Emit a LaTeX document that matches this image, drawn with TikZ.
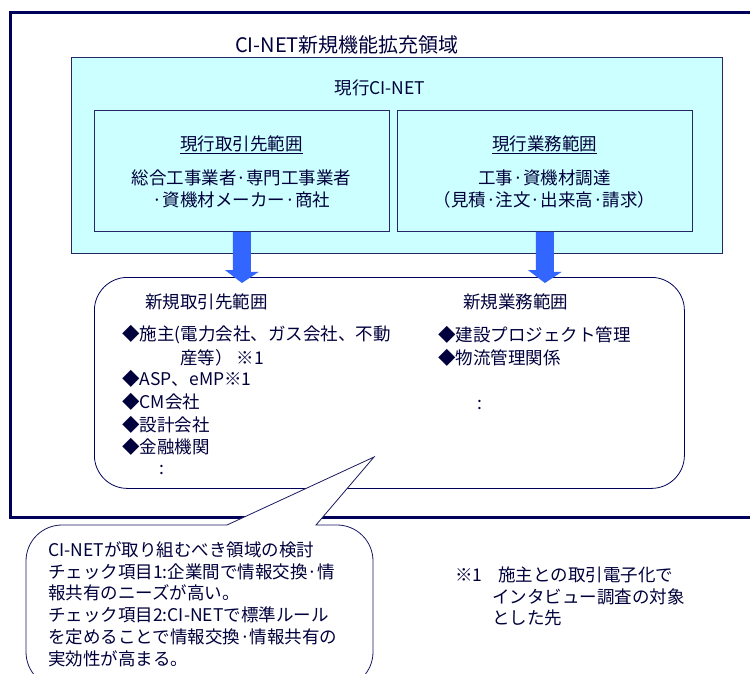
\documentclass[tikz,border=0pt]{standalone}
\usepackage{fontspec}
\setmainfont{Noto Sans CJK JP}
\definecolor{navy}{RGB}{0,0,90}
\definecolor{txt}{RGB}{0,0,60}
\definecolor{lcyan}{RGB}{204,255,255}
\definecolor{ablue}{RGB}{51,102,255}
\tikzset{
  tx/.style={text=txt, font=\fontsize{17.5}{22}\selectfont, inner sep=0pt},
  boxline/.style={draw=navy!70!gray, line width=0.8pt},
  barrow/.style={fill=ablue},
}
\begin{document}
\begin{tikzpicture}[x=1pt,y=-1pt]
\useasboundingbox (0,0) rectangle (750,673);
\fill[white] (0,0) rectangle (750,673);
% outer frame
\draw[navy, line width=3pt] (10,12) rectangle (775,517);
\node[tx, font=\fontsize{20}{24}\selectfont] (title) at (347,45) {CI-NET新規機能拡充領域};
% cyan box
\node[boxline, fill=lcyan, minimum width=651pt, minimum height=196pt, anchor=north west, inner sep=0pt] (cinet) at (71,57) {};
\node[tx] (cinetlab) at (380,88) {現行CI-NET};
% inner boxes
\node[boxline, fill=lcyan, minimum width=295pt, minimum height=121pt, anchor=north west, inner sep=0pt] (lbox) at (94,110) {};
\node[boxline, fill=lcyan, minimum width=295pt, minimum height=121pt, anchor=north west, inner sep=0pt] (rbox) at (397,110) {};
\node[tx] (lhead) at (241.5,145) {\underline{現行取引先範囲}};
\node[tx, align=center] (ltext) at (241.5,189) {総合工事業者·専門工事業者\\·資機材メーカー·商社};
\node[tx] (rhead) at (544.5,145) {\underline{現行業務範囲}};
\node[tx, align=center] (rtext) at (544.5,189) {工事·資機材調達\\（見積·注文·出来高·請求）};
% new scope box
\node[boxline, draw=navy, rounded corners=33pt, minimum width=590pt, minimum height=211pt, anchor=north west, inner sep=0pt] (newbox) at (94,277) {};
\node[tx, anchor=west] (nlhead) at (145,302) {新規取引先範囲};
\node[tx, anchor=west] (nrhead) at (463,302) {新規業務範囲};
\node[tx, anchor=west] (nl1) at (122,335) {◆施主(電力会社、ガス会社、不動};
\node[tx, anchor=west] (nl1b) at (180,358) {産等） ※1};
\node[tx, anchor=west] (nl2) at (122,379) {◆ASP、eMP※1};
\node[tx, anchor=west] (nl3) at (122,402) {◆CM会社};
\node[tx, anchor=west] (nl4) at (122,425) {◆設計会社};
\node[tx, anchor=west] (nl5) at (122,447) {◆金融機関};
\node[tx, anchor=west] (nl6) at (159,470) {:};
\node[tx, anchor=west] (nr1) at (438,335) {◆建設プロジェクト管理};
\node[tx, anchor=west] (nr2) at (438,358) {◆物流管理関係};
\node[tx, anchor=west] (nr3) at (477,405) {:};
% arrows from current boxes to new box
\fill[barrow] (lbox.south) ++(-9,0) -- ++(18,0) -- ++(0,40) -- ++(8,0) -- (lbox.south |- 0,283) -- ++(-17,-13) -- ++(8,0) -- cycle;
\fill[barrow] (rbox.south) ++(-9,0) -- ++(18,0) -- ++(0,40) -- ++(8,0) -- (rbox.south |- 0,283) -- ++(-17,-13) -- ++(8,0) -- cycle;
% callout bubble
\coordinate (tip) at (374,457);
\draw[navy!80!gray, line width=0.8pt, fill=white] (227,525) [rounded corners=36pt] -- (26,525) -- (26,688) -- (373,688) -- (373,525) [sharp corners] -- (316,525) -- (tip) -- cycle;
\node[tx, anchor=west] (b1) at (48,550) {CI-NETが取り組むべき領域の検討};
\node[tx, anchor=west] (b2) at (48,572) {チェック項目1:企業間で情報交換·情};
\node[tx, anchor=west] (b3) at (48,593) {報共有のニーズが高い。};
\node[tx, anchor=west] (b4) at (48,615) {チェック項目2:CI-NETで標準ルール};
\node[tx, anchor=west] (b5) at (48,637) {を定めることで情報交換·情報共有の};
\node[tx, anchor=west] (b6) at (48,659) {実効性が高まる。};
% footnote
\node[tx, anchor=west] (foot1) at (455,575) {※1};
\node[tx, anchor=west] (foot2) at (498,575) {施主との取引電子化で};
\node[tx, anchor=west] (foot3) at (492,597) {インタビュー調査の対象};
\node[tx, anchor=west] (foot4) at (492,618) {とした先};
\end{tikzpicture}
\end{document}
